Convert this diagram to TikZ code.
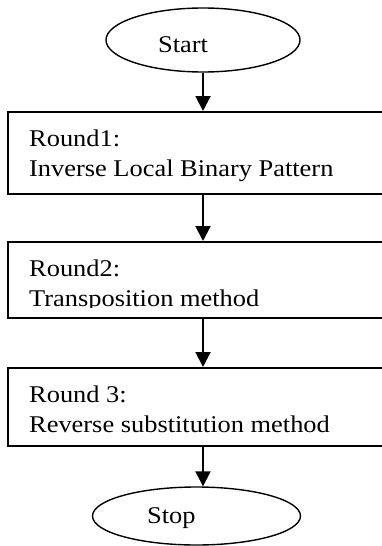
\documentclass[tikz,border=0pt]{standalone}
\usepackage{fontspec}
\usepackage{graphicx}
\setmainfont{Liberation Serif}
\usetikzlibrary{shapes.geometric,arrows.meta}
\newcommand{\wtxt}[1]{\scalebox{1.1}[1]{#1}}
\tikzset{
  oval/.style={draw, line width=1.4pt, ellipse, inner sep=0pt},
  roundbox/.style={draw, line width=2.2pt, rectangle, inner sep=0pt, anchor=north west, minimum width=390pt},
  label/.style={anchor=base west, inner sep=0pt},
  arr/.style={line width=2pt, -{Triangle[length=15pt,width=15pt]}}
}
\begin{document}
\begin{tikzpicture}[x=1pt, y=-1pt, font=\fontsize{24}{29}\selectfont]
\clip (0,0) rectangle (382,546);
% start / stop
\node[oval, minimum width=194pt, minimum height=64pt] (start) at (203,40) {};
\node[label] (starttxt) at (158,52) {\wtxt{Start}};
\node[oval, minimum width=208pt, minimum height=58pt] (stop) at (196.5,516) {};
\node[label] (stoptxt) at (147,523) {\wtxt{Stop}};
% boxes
\node[roundbox, minimum height=82pt] (box1) at (7,111) {};
\node[roundbox, minimum height=76pt] (box2) at (7,241) {};
\node[roundbox, minimum height=78pt] (box3) at (7,367) {};
% texts
\node[label] (r1a) at (29,146) {\wtxt{Round1:}};
\node[label] (r1b) at (29,176) {\wtxt{Inverse Local Binary Pattern}};
\node[label] (r2a) at (29,276) {\wtxt{Round2:}};
\begin{scope}
\clip (0,241) rectangle (382,307);
\node[label] (r2b) at (29,306) {\wtxt{Transposition method}};
\end{scope}
\node[label] (r3a) at (29,402) {\wtxt{Round 3:}};
\node[label] (r3b) at (29,432) {\wtxt{Reverse substitution method}};
% connectors
\draw[arr] (start.south) -- (start.south |- box1.north);
\draw[arr] (start.south |- box1.south) -- (start.south |- box2.north);
\draw[arr] (start.south |- box2.south) -- (start.south |- box3.north);
\draw[arr] (start.south |- box3.south) -- (start.south |- stop.north);
\end{tikzpicture}
\end{document}
